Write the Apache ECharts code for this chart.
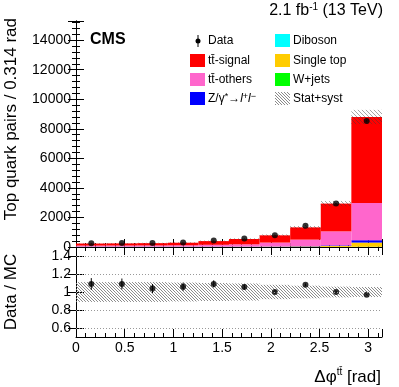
<!DOCTYPE html>
<html>
<head>
<meta charset="utf-8">
<script src="https://cdn.jsdelivr.net/npm/echarts@6/dist/echarts.min.js"></script>
<style>
html, body { margin: 0; padding: 0; background: #fff; }
#chart { width: 399px; height: 387px; }
</style>
</head>
<body>
<div id="chart"></div>
<script>
// bins in delta phi (10 bins of pi/10)
const binLo = [0, 0.314, 0.628, 0.942, 1.257, 1.571, 1.885, 2.199, 2.513, 2.827]
const binHi = [0.314, 0.628, 0.942, 1.257, 1.571, 1.885, 2.199, 2.513, 2.827, 3.1416]

// MC stack, bottom to top
const wjets     = [2, 2, 2, 2, 2, 2, 3, 3, 5, 10]
const diboson   = [1, 1, 1, 1, 1, 1, 1, 2, 3, 5]
const singleTop = [8, 8, 9, 10, 12, 15, 20, 35, 60, 285]
const zgamma    = [15, 15, 15, 15, 15, 15, 15, 20, 40, 160]
const ttOthers  = [69, 74, 78, 87, 120, 147, 261, 440, 952, 2520]
const ttSignal  = [140, 145, 155, 175, 250, 360, 490, 830, 1880, 5820]

const dataVals  = [256, 267, 270, 307, 436, 570, 790, 1436, 2940, 8536]
const ratioErr  = [0.065, 0.06, 0.05, 0.045, 0.04, 0.03, 0.02, 0.015, 0.01, 0.005]
const bandErr   = [0.11, 0.11, 0.11, 0.105, 0.1, 0.095, 0.08, 0.07, 0.06, 0.055]

const yTicksRatio = [0.6, 0.8, 1, 1.2, 1.4]

const FONT = '"Liberation Sans", Arial, sans-serif'

function hatch(color, size) {
    const c = document.createElement('canvas')
    c.width = size
    c.height = size
    const g = c.getContext('2d')
    g.strokeStyle = color
    g.lineWidth = 1
    g.beginPath()
    for (let k = -1; k <= 1; k++) {
        g.moveTo(k * size, 0)
        g.lineTo(k * size + size, size)
    }
    g.stroke()
    return { image: c, repeat: 'repeat' }
}
const hatchTop = hatch('rgba(60,60,60,0.45)', 4)
const hatchRatio = hatch('#8a8a8a', 3)

const components = [
    { name: 'W+jets', vals: wjets, color: '#00ff00' },
    { name: 'Diboson', vals: diboson, color: '#00ffff' },
    { name: 'Single top', vals: singleTop, color: '#ffcc00' },
    { name: 'Z/γ*', vals: zgamma, color: '#0000ff' },
    { name: 'tt-others', vals: ttOthers, color: '#ff66cc' },
    { name: 'tt-signal', vals: ttSignal, color: '#ff0000' }
]

const mcTotal = binLo.map((_, i) => components.reduce((s, c) => s + c.vals[i], 0))
const ratio = dataVals.map((v, i) => v / mcTotal[i])
const centers = binLo.map((lo, i) => (lo + binHi[i]) / 2)

function boxItem(fill) {
    return function (params, api) {
        const p0 = api.coord([api.value(0), api.value(3)])
        const p1 = api.coord([api.value(1), api.value(2)])
        return {
            type: 'rect',
            shape: { x: p0[0], y: p0[1], width: p1[0] - p0[0], height: p1[1] - p0[1] },
            style: { fill: fill }
        }
    }
}

function errItem(params, api) {
    const a = api.coord([api.value(0), api.value(1)])
    const b = api.coord([api.value(0), api.value(2)])
    return {
        type: 'line',
        shape: { x1: a[0], y1: a[1], x2: b[0], y2: b[1] },
        style: { stroke: '#000', lineWidth: 1 }
    }
}

const series = []
const base = binLo.map(() => 0)
components.forEach(c => {
    series.push({
        type: 'custom',
        name: c.name,
        xAxisIndex: 0,
        yAxisIndex: 0,
        clip: true,
        renderItem: boxItem(c.color),
        encode: { x: [0, 1], y: [2, 3] },
        data: binLo.map((lo, i) => {
            const item = [lo, binHi[i], base[i], base[i] + c.vals[i]]
            base[i] += c.vals[i]
            return item
        })
    })
})
series.push({
    type: 'custom',
    name: 'Stat+syst',
    xAxisIndex: 0,
    yAxisIndex: 0,
    clip: true,
    renderItem: boxItem(hatchTop),
    encode: { x: [0, 1], y: [2, 3] },
    data: binLo.map((lo, i) => [lo, binHi[i], mcTotal[i] * (1 - bandErr[i]), mcTotal[i] * (1 + bandErr[i])])
})
series.push({
    type: 'custom',
    xAxisIndex: 0,
    yAxisIndex: 0,
    renderItem: errItem,
    encode: { x: 0, y: [1, 2] },
    data: centers.map((x, i) => [x, dataVals[i] - ratioErr[i] * mcTotal[i], dataVals[i] + ratioErr[i] * mcTotal[i]])
})
series.push({
    type: 'scatter',
    name: 'Data',
    xAxisIndex: 0,
    yAxisIndex: 0,
    symbol: 'circle',
    symbolSize: 6,
    itemStyle: { color: '#000' },
    data: centers.map((x, i) => [x, dataVals[i]])
})

// ratio panel
series.push({
    type: 'custom',
    xAxisIndex: 2,
    yAxisIndex: 2,
    clip: true,
    renderItem: boxItem(hatchRatio),
    encode: { x: [0, 1], y: [2, 3] },
    data: binLo.map((lo, i) => [lo, binHi[i], 1 - bandErr[i], 1 + bandErr[i]]),
    markLine: {
        silent: true,
        symbol: 'none',
        label: { show: false },
        lineStyle: { color: '#999', type: [1, 2], width: 1 },
        data: yTicksRatio.map(v => ({ yAxis: v }))
    }
})
series.push({
    type: 'custom',
    xAxisIndex: 2,
    yAxisIndex: 2,
    renderItem: errItem,
    encode: { x: 0, y: [1, 2] },
    data: centers.map((x, i) => [x, ratio[i] - ratioErr[i], ratio[i] + ratioErr[i]])
})
series.push({
    type: 'scatter',
    xAxisIndex: 2,
    yAxisIndex: 2,
    symbol: 'circle',
    symbolSize: 6,
    itemStyle: { color: '#000' },
    data: centers.map((x, i) => [x, ratio[i]])
})

const axisLine = { show: true, lineStyle: { color: '#000', width: 1 } }
const labelStyle = { color: '#000', fontFamily: FONT, fontSize: 14 }

function xAxisDef(grid, pos, labels) {
    return {
        type: 'value', gridIndex: grid, position: pos,
        min: 0, max: 3.1416, interval: 0.5,
        axisLine: axisLine,
        axisTick: { inside: true, length: 8, lineStyle: { color: '#000' } },
        minorTick: { show: true, splitNumber: 5, length: 4, lineStyle: { color: '#000' } },
        splitLine: { show: false },
        axisLabel: labels
            ? Object.assign({ show: true, margin: 4, showMaxLabel: false, formatter: v => String(v) }, labelStyle)
            : { show: false }
    }
}

const option = {
    animation: false,
    backgroundColor: '#fff',
    grid: [
        { left: 76, top: 21, width: 306, height: 226 },
        { left: 76, top: 247, width: 306, height: 90 }
    ],
    xAxis: [
        xAxisDef(0, 'bottom', false),
        xAxisDef(0, 'top', false),
        xAxisDef(1, 'bottom', true),
        xAxisDef(1, 'top', false)
    ],
    yAxis: [
        {
            type: 'value', gridIndex: 0, position: 'left', min: 0, max: 15300, interval: 2000,
            axisLine: axisLine,
            axisTick: { inside: true, length: 8, lineStyle: { color: '#000' } },
            minorTick: { show: true, splitNumber: 5, length: 4, lineStyle: { color: '#000' } },
            splitLine: { show: false },
            axisLabel: Object.assign({ margin: 5, showMaxLabel: false, formatter: v => String(v) }, labelStyle)
        },
        {
            type: 'value', gridIndex: 0, position: 'right', min: 0, max: 15300, interval: 2000,
            axisLine: axisLine,
            axisTick: { inside: true, length: 8, lineStyle: { color: '#000' } },
            minorTick: { show: true, splitNumber: 5, length: 4, lineStyle: { color: '#000' } },
            splitLine: { show: false },
            axisLabel: { show: false }
        },
        {
            type: 'value', gridIndex: 1, position: 'left', min: 0.5, max: 1.5,
            axisLine: axisLine,
            axisTick: { inside: true, length: 8, customValues: yTicksRatio, lineStyle: { color: '#000' } },
            splitLine: { show: false },
            axisLabel: Object.assign({ margin: 5, customValues: yTicksRatio, formatter: v => String(+v.toFixed(1)) }, labelStyle)
        },
        {
            type: 'value', gridIndex: 1, position: 'right', min: 0.5, max: 1.5,
            axisLine: axisLine,
            axisTick: { inside: true, length: 8, customValues: yTicksRatio, lineStyle: { color: '#000' } },
            splitLine: { show: false },
            axisLabel: { show: false }
        }
    ],
    graphic: [
        { type: 'text', x: 90, y: 40, style: { text: 'CMS', font: 'bold 16px ' + FONT, fill: '#000', verticalAlign: 'middle' } },
        {
            type: 'text', x: 383, y: 11,
            style: {
                text: '{a|2.1 fb}{s|-1}{a| (13 TeV)}', align: 'right', verticalAlign: 'middle',
                rich: {
                    a: { fontFamily: FONT, fontSize: 16, fill: '#000', lineHeight: 18 },
                    s: { fontFamily: FONT, fontSize: 10, fill: '#000', verticalAlign: 'top', lineHeight: 18 }
                }
            }
        },
        {
            type: 'text', x: 11, y: 18, rotation: Math.PI / 2,
            style: { text: 'Top quark pairs / 0.314 rad', font: '17px ' + FONT, fill: '#000', align: 'right', verticalAlign: 'middle' }
        },
        {
            type: 'text', x: 11, y: 292, rotation: Math.PI / 2,
            style: { text: 'Data / MC', font: '17px ' + FONT, fill: '#000', align: 'center', verticalAlign: 'middle' }
        },
        {
            type: 'text', x: 381, y: 377,
            style: {
                text: '{a|Δφ}{s|tt\u0304}{a| [rad]}', align: 'right', verticalAlign: 'middle',
                rich: {
                    a: { fontFamily: FONT, fontSize: 17, fill: '#000', lineHeight: 20 },
                    s: { fontFamily: FONT, fontSize: 10, fill: '#000', verticalAlign: 'top', lineHeight: 20 }
                }
            }
        },
        // legend
        { type: 'line', shape: { x1: 198, y1: 35, x2: 198, y2: 47 }, style: { stroke: '#000', lineWidth: 1 } },
        { type: 'circle', shape: { cx: 198, cy: 41, r: 2.5 }, style: { fill: '#000' } },
        { type: 'text', x: 208, y: 41, style: { text: 'Data', font: '12px ' + FONT, fill: '#000', verticalAlign: 'middle' } },
        { type: 'rect', shape: { x: 190, y: 54, width: 15, height: 13 }, style: { fill: '#ff0000' } },
        { type: 'text', x: 208, y: 61, style: { text: 'tt\u0304-signal', font: '12px ' + FONT, fill: '#000', verticalAlign: 'middle' } },
        { type: 'rect', shape: { x: 190, y: 73, width: 15, height: 13 }, style: { fill: '#ff66cc' } },
        { type: 'text', x: 208, y: 80, style: { text: 'tt\u0304-others', font: '12px ' + FONT, fill: '#000', verticalAlign: 'middle' } },
        { type: 'rect', shape: { x: 190, y: 92, width: 15, height: 13 }, style: { fill: '#0000ff' } },
        {
            type: 'text', x: 208, y: 99,
            style: {
                text: '{n|Z/γ}{s|*}{n|→}{i|l}{s|+}{i|l}{s|−}', verticalAlign: 'middle',
                rich: {
                    n: { fontFamily: FONT, fontSize: 12, fill: '#000', lineHeight: 14 },
                    i: { fontFamily: FONT, fontSize: 12, fontStyle: 'italic', fill: '#000', lineHeight: 14 },
                    s: { fontFamily: FONT, fontSize: 9, fill: '#000', verticalAlign: 'top', lineHeight: 14 }
                }
            }
        },
        { type: 'rect', shape: { x: 275, y: 34, width: 15, height: 13 }, style: { fill: '#00ffff' } },
        { type: 'text', x: 293, y: 41, style: { text: 'Diboson', font: '12px ' + FONT, fill: '#000', verticalAlign: 'middle' } },
        { type: 'rect', shape: { x: 275, y: 54, width: 15, height: 13 }, style: { fill: '#ffcc00' } },
        { type: 'text', x: 293, y: 61, style: { text: 'Single top', font: '12px ' + FONT, fill: '#000', verticalAlign: 'middle' } },
        { type: 'rect', shape: { x: 275, y: 73, width: 15, height: 13 }, style: { fill: '#00ff00' } },
        { type: 'text', x: 293, y: 80, style: { text: 'W+jets', font: '12px ' + FONT, fill: '#000', verticalAlign: 'middle' } },
        { type: 'rect', shape: { x: 275, y: 92, width: 15, height: 13 }, style: { fill: hatchRatio } },
        { type: 'text', x: 293, y: 99, style: { text: 'Stat+syst', font: '12px ' + FONT, fill: '#000', verticalAlign: 'middle' } }
    ],
    series: series
}

const myChart = echarts.init(document.getElementById('chart'))
myChart.setOption(option)
</script>
</body>
</html>
